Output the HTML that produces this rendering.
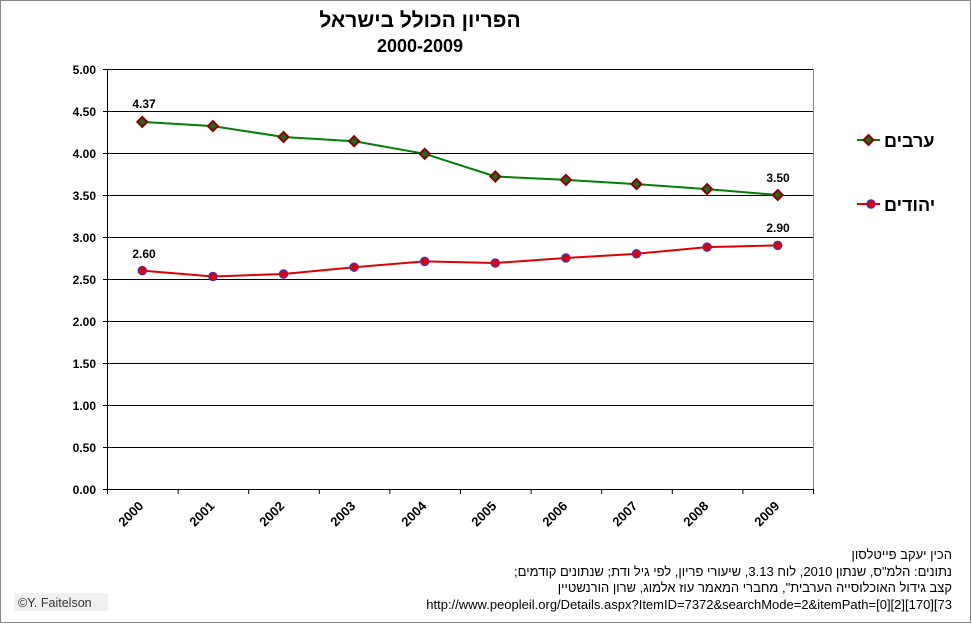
<!DOCTYPE html>
<html><head><meta charset="utf-8"><style>
body{margin:0;background:#fff}
svg{display:block;font-family:"Liberation Sans",Arial,sans-serif}
.yl{font-size:12px;font-weight:bold;text-anchor:end}
.xl{font-size:13px;font-weight:bold;text-anchor:middle}
.dl{font-size:12px;font-weight:bold;text-anchor:middle}
.src{font-size:13px;font-family:"Liberation Sans","Noto Sans CJK SC",sans-serif}
</style></head><body>
<svg width="972" height="624" viewBox="0 0 972 624">
<rect x="0.5" y="0.5" width="970" height="622" fill="#fff" stroke="#888"/>
<text x="420" y="27" font-size="21" font-weight="bold" text-anchor="middle" font-family="'Liberation Sans','Noto Sans CJK SC',sans-serif">הפריון הכולל בישראל</text>
<text x="420" y="52" font-size="18" font-weight="bold" text-anchor="middle">2000-2009</text>
<g stroke="#000" stroke-width="1">
<line x1="107" y1="69.5" x2="813" y2="69.5"/>
<line x1="107" y1="111.5" x2="813" y2="111.5"/>
<line x1="107" y1="153.5" x2="813" y2="153.5"/>
<line x1="107" y1="195.5" x2="813" y2="195.5"/>
<line x1="107" y1="237.5" x2="813" y2="237.5"/>
<line x1="107" y1="279.5" x2="813" y2="279.5"/>
<line x1="107" y1="321.5" x2="813" y2="321.5"/>
<line x1="107" y1="363.5" x2="813" y2="363.5"/>
<line x1="107" y1="405.5" x2="813" y2="405.5"/>
<line x1="107" y1="447.5" x2="813" y2="447.5"/>
<line x1="107" y1="489.5" x2="813" y2="489.5"/>
<line x1="107.5" y1="69" x2="107.5" y2="489"/>
</g>
<line x1="813.5" y1="69" x2="813.5" y2="489" stroke="#888"/>
<g stroke="#000">
<line x1="103" y1="69.5" x2="107" y2="69.5"/><line x1="103" y1="111.5" x2="107" y2="111.5"/><line x1="103" y1="153.5" x2="107" y2="153.5"/><line x1="103" y1="195.5" x2="107" y2="195.5"/><line x1="103" y1="237.5" x2="107" y2="237.5"/><line x1="103" y1="279.5" x2="107" y2="279.5"/><line x1="103" y1="321.5" x2="107" y2="321.5"/><line x1="103" y1="363.5" x2="107" y2="363.5"/><line x1="103" y1="405.5" x2="107" y2="405.5"/><line x1="103" y1="447.5" x2="107" y2="447.5"/><line x1="103" y1="489.5" x2="107" y2="489.5"/>
<line x1="107.5" y1="489" x2="107.5" y2="494"/><line x1="178.1" y1="489" x2="178.1" y2="494"/><line x1="248.7" y1="489" x2="248.7" y2="494"/><line x1="319.3" y1="489" x2="319.3" y2="494"/><line x1="389.9" y1="489" x2="389.9" y2="494"/><line x1="460.5" y1="489" x2="460.5" y2="494"/><line x1="531.1" y1="489" x2="531.1" y2="494"/><line x1="601.7" y1="489" x2="601.7" y2="494"/><line x1="672.3" y1="489" x2="672.3" y2="494"/><line x1="742.9" y1="489" x2="742.9" y2="494"/><line x1="813.5" y1="489" x2="813.5" y2="494"/>
</g>
<text class="yl" x="96" y="74">5.00</text><text class="yl" x="96" y="116">4.50</text><text class="yl" x="96" y="158">4.00</text><text class="yl" x="96" y="200">3.50</text><text class="yl" x="96" y="242">3.00</text><text class="yl" x="96" y="284">2.50</text><text class="yl" x="96" y="326">2.00</text><text class="yl" x="96" y="368">1.50</text><text class="yl" x="96" y="410">1.00</text><text class="yl" x="96" y="452">0.50</text><text class="yl" x="96" y="494">0.00</text>
<g class="xl">
<text transform="translate(134,517) rotate(-45)">2000</text>
<text transform="translate(205,517) rotate(-45)">2001</text>
<text transform="translate(275,517) rotate(-45)">2002</text>
<text transform="translate(346,517) rotate(-45)">2003</text>
<text transform="translate(417,517) rotate(-45)">2004</text>
<text transform="translate(487,517) rotate(-45)">2005</text>
<text transform="translate(558,517) rotate(-45)">2006</text>
<text transform="translate(628,517) rotate(-45)">2007</text>
<text transform="translate(699,517) rotate(-45)">2008</text>
<text transform="translate(770,517) rotate(-45)">2009</text>
</g>
<polyline fill="none" stroke="#008000" stroke-width="2" points="142.3,121.9 212.9,126.1 283.5,137 354.1,141.2 424.7,153.8 495.3,176.5 565.9,179.9 636.5,184.1 707.1,189.1 777.7,195"/>
<g fill="#1f6b1f" stroke="#8b0000" stroke-width="2">
<path d="M142.3 116.9l5 5-5 5-5-5z"/><path d="M212.9 121.1l5 5-5 5-5-5z"/><path d="M283.5 132l5 5-5 5-5-5z"/><path d="M354.1 136.2l5 5-5 5-5-5z"/><path d="M424.7 148.8l5 5-5 5-5-5z"/><path d="M495.3 171.5l5 5-5 5-5-5z"/><path d="M565.9 174.9l5 5-5 5-5-5z"/><path d="M636.5 179.1l5 5-5 5-5-5z"/><path d="M707.1 184.1l5 5-5 5-5-5z"/><path d="M777.7 190l5 5-5 5-5-5z"/>
</g>
<polyline fill="none" stroke="#e00000" stroke-width="2" points="142.3,270.6 212.9,276.5 283.5,274 354.1,267.2 424.7,261.4 495.3,263 565.9,258 636.5,253.8 707.1,247.1 777.7,245.4"/>
<g fill="#e00000" stroke="#5a2ca0" stroke-width="1.5">
<circle cx="142.3" cy="270.6" r="4"/><circle cx="212.9" cy="276.5" r="4"/><circle cx="283.5" cy="274" r="4"/><circle cx="354.1" cy="267.2" r="4"/><circle cx="424.7" cy="261.4" r="4"/><circle cx="495.3" cy="263" r="4"/><circle cx="565.9" cy="258" r="4"/><circle cx="636.5" cy="253.8" r="4"/><circle cx="707.1" cy="247.1" r="4"/><circle cx="777.7" cy="245.4" r="4"/>
</g>
<text class="dl" x="144" y="108">4.37</text>
<text class="dl" x="778" y="182">3.50</text>
<text class="dl" x="144" y="258">2.60</text>
<text class="dl" x="778" y="232">2.90</text>
<line x1="857" y1="140" x2="880" y2="140" stroke="#008000" stroke-width="2"/>
<path d="M868.5 135l5 5-5 5-5-5z" fill="#1f6b1f" stroke="#8b0000" stroke-width="2"/>
<text x="884" y="147" font-size="18" font-weight="bold" font-family="'Liberation Sans','Noto Sans CJK SC',sans-serif">ערבים</text>
<line x1="857" y1="204" x2="880" y2="204" stroke="#e00000" stroke-width="2"/>
<circle cx="871" cy="204" r="4" fill="#e00000" stroke="#5a2ca0" stroke-width="1.5"/>
<text x="884" y="211" font-size="18" font-weight="bold" font-family="'Liberation Sans','Noto Sans CJK SC',sans-serif">יהודים</text>
<g class="src" text-anchor="end">
<text x="952" y="559" direction="rtl" text-anchor="start">הכין יעקב פייטלסון</text>
<text x="952" y="576" direction="rtl" text-anchor="start">נתונים: הלמ"ס, שנתון 2010, לוח 3.13, שיעורי פריון, לפי גיל ודת;  שנתונים קודמים;</text>
<text x="952" y="592" direction="rtl" text-anchor="start">קצב גידול האוכלוסייה הערבית", מחברי המאמר עוז אלמוג, שרון הורנשטיין</text>
<text x="952" y="609">http://www.peopleil.org/Details.aspx?ItemID=7372&amp;searchMode=2&amp;itemPath=[0][2][170][73</text>
</g>
<rect x="14" y="593" width="94" height="18" fill="#f0f0f0"/>
<text x="18" y="607" font-size="12.5" fill="#333">©Y. Faitelson</text>
</svg>
</body></html>
